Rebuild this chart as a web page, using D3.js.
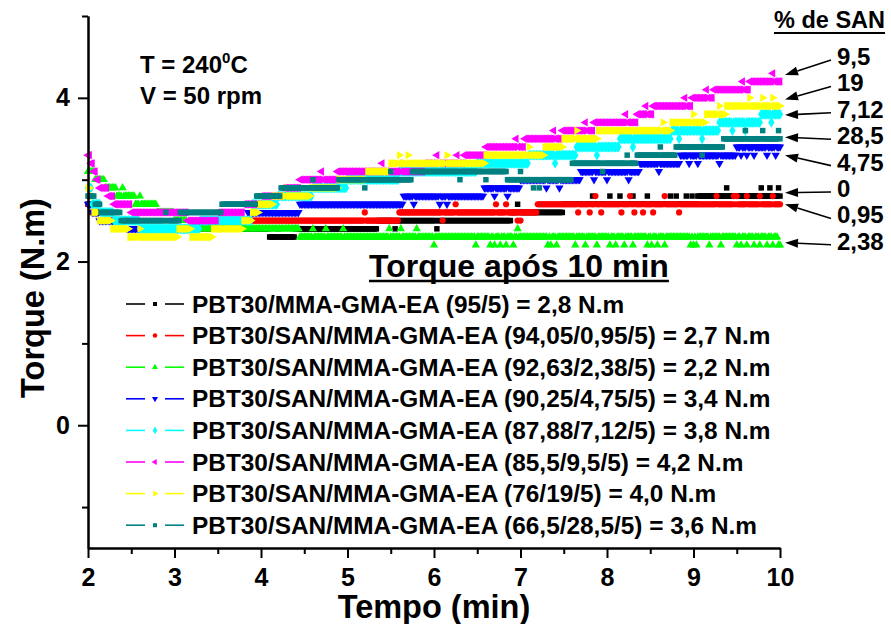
<!DOCTYPE html>
<html>
<head>
<meta charset="utf-8">
<script src="https://cdn.jsdelivr.net/npm/d3@7"></script>
<style>
  html, body { margin: 0; padding: 0; background: #fff; }
  svg text { font-family: "Liberation Sans", Arial, Helvetica, sans-serif; font-weight: bold; fill: #000; }
</style>
</head>
<body>
<svg id="chart" width="891" height="624"></svg>
<script>
// Mixing torque of PBT30 blends, one reading every second between 2 and 10 min.
const timeStart = 2, timeEnd = 10, sampleStep = 1 / 60;

const sanContent = ["0", "0,95", "2,38", "4,75", "7,12", "9,5", "19", "28,5"];
const legendLabels = [
  "PBT30/MMA-GMA-EA (95/5) = 2,8 N.m",
  "PBT30/SAN/MMA-GMA-EA (94,05/0,95/5) = 2,7 N.m",
  "PBT30/SAN/MMA-GMA-EA (92,63/2,38/5) = 2,2 N.m",
  "PBT30/SAN/MMA-GMA-EA (90,25/4,75/5) = 3,4 N.m",
  "PBT30/SAN/MMA-GMA-EA (87,88/7,12/5) = 3,8 N.m",
  "PBT30/SAN/MMA-GMA-EA (85,5/9,5/5) = 4,2 N.m",
  "PBT30/SAN/MMA-GMA-EA (76/19/5) = 4,0 N.m",
  "PBT30/SAN/MMA-GMA-EA (66,5/28,5/5) = 3,6 N.m"
];
const seriesColors = ["#000000", "#ff0000", "#00ff00", "#0000ff", "#00ffff", "#ff00ff", "#ffff00", "#008080"];
const seriesSymbols = ["square", "circle", "triangleUp", "triangleDown", "diamond", "triangleLeft", "triangleRight", "square"];

// Readings stored as runs: [start time (min), torque (N.m)], held until the next run starts.
const runsSAN0 = [[2.00, 2.7], [2.05, 2.6], [2.18, 2.5], [2.5, 2.4], [4.1, 2.3], [4.4, 2.4], [5.35, 2.5], [6.9, 2.6], [7.5, 2.7], [9.05, 2.8]];
const runsSAN095 = [[2.00, 2.7], [2.05, 2.6], [2.2, 2.5], [2.6, 2.4], [3.7, 2.5], [5.6, 2.6], [7.2, 2.7]];
const runsSAN238 = [[2.00, 3.1], [2.08, 3.0], [2.2, 2.9], [2.33, 2.8], [2.55, 2.7], [2.8, 2.6], [3.0, 2.5], [3.15, 2.4], [4.45, 2.3], [9.97, 2.2]];
const runsSAN475 = [[2.00, 2.7], [2.04, 2.6], [2.12, 2.5], [2.45, 2.4], [3.2, 2.5], [3.85, 2.6], [4.45, 2.7], [5.64, 2.8], [6.57, 2.9], [7.0, 3.0], [7.69, 3.1], [8.38, 3.2], [8.84, 3.3], [9.5, 3.4]];
const runsSAN712 = [[2.00, 2.9], [2.05, 2.7], [2.15, 2.6], [2.3, 2.5], [2.6, 2.4], [3.3, 2.5], [3.9, 2.7], [4.2, 2.8], [4.6, 2.9], [5.0, 3.0], [5.6, 3.1], [6.5, 3.2], [7.1, 3.3], [7.65, 3.4], [8.15, 3.5], [8.75, 3.6], [9.3, 3.7], [9.78, 3.8]];
const runsSAN95 = [[2.00, 3.3], [2.03, 3.2], [2.06, 3.1], [2.09, 3.0], [2.12, 2.9], [2.22, 2.8], [2.3, 2.7], [2.5, 2.6], [3.15, 2.5], [3.5, 2.6], [3.8, 2.7], [4.0, 2.8], [4.25, 2.9], [4.45, 3.0], [4.87, 3.1], [5.87, 3.2], [6.35, 3.3], [6.6, 3.4], [7.05, 3.5], [7.48, 3.6], [7.84, 3.7], [8.35, 3.8], [8.52, 3.9], [8.97, 4.0], [9.22, 4.1], [9.64, 4.2]];
const runsSAN19 = [[2.00, 2.9], [2.03, 2.8], [2.06, 2.6], [2.12, 2.5], [2.28, 2.4], [2.47, 2.3], [3.05, 2.4], [3.2, 2.3], [3.45, 2.4], [3.8, 2.5], [3.9, 2.6], [3.97, 2.7], [4.14, 2.8], [4.58, 2.9], [4.9, 3.0], [5.22, 3.1], [5.5, 3.2], [6.6, 3.3], [7.28, 3.4], [7.5, 3.5], [7.9, 3.6], [8.75, 3.7], [9.15, 3.8], [9.38, 3.9]];
const runsSAN285 = [[2.00, 2.8], [2.08, 2.7], [2.15, 2.6], [2.37, 2.5], [3.06, 2.6], [3.55, 2.7], [3.95, 2.8], [4.22, 2.9], [4.9, 3.0], [5.75, 3.1], [6.85, 3.0], [7.6, 3.2], [8.35, 3.3], [8.8, 3.4], [9.35, 3.5]];

// Single readings off the running level: [time (min), torque (N.m)].
const blipsSAN0 = [[4.2, 2.4], [5.55, 2.4], [6.03, 2.4], [6.97, 2.7], [7.84, 2.8], [8.03, 2.8], [8.15, 2.8], [8.3, 2.8], [8.46, 2.8], [8.73, 2.8], [8.8, 2.8], [8.92, 2.8], [8.98, 2.8], [9.25, 2.7], [9.39, 2.9], [9.6, 2.7], [9.79, 2.9], [9.88, 2.9], [9.98, 2.9]];
const blipsSAN095 = [[5.2, 2.6], [6.1, 2.5], [6.25, 2.7], [6.71, 2.7], [6.83, 2.7], [6.97, 2.5], [7.0, 2.5], [7.66, 2.6], [7.8, 2.6], [7.86, 2.8], [7.93, 2.6], [8.17, 2.6], [8.27, 2.8], [8.31, 2.6], [8.42, 2.6], [8.53, 2.6], [8.67, 2.8], [8.84, 2.6], [9.27, 2.8], [9.46, 2.8], [9.5, 2.8], [9.62, 2.8], [9.77, 2.8], [9.92, 2.8]];
const blipsSAN238 = [[2.4, 2.9], [2.6, 2.8], [4.6, 2.4], [4.75, 2.4], [4.95, 2.4], [5.49, 2.4], [5.61, 2.4], [5.8, 2.4], [6.0, 2.2], [6.48, 2.2], [6.65, 2.2], [6.7, 2.2], [6.76, 2.2], [6.84, 2.2], [6.91, 2.2], [6.97, 2.4], [7.31, 2.2], [7.35, 2.2], [7.42, 2.2], [7.63, 2.2], [7.75, 2.2], [7.88, 2.2], [8.03, 2.2], [8.1, 2.2], [8.2, 2.2], [8.3, 2.2], [8.46, 2.2], [8.52, 2.2], [8.58, 2.2], [8.67, 2.2], [8.96, 2.2], [9.0, 2.2], [9.04, 2.2], [9.19, 2.2], [9.31, 2.2], [9.5, 2.2], [9.55, 2.2], [9.62, 2.2], [9.7, 2.2], [9.77, 2.2], [9.85, 2.2], [9.92, 2.2]];
const blipsSAN475 = [[4.3, 2.6], [4.38, 2.6], [5.76, 2.7], [6.07, 2.7], [6.15, 2.7], [6.7, 2.8], [6.85, 2.8], [7.3, 2.9], [7.45, 2.9], [7.85, 3.0], [8.0, 3.0], [8.25, 3.0], [8.6, 3.1], [8.95, 3.2], [9.05, 3.2], [9.3, 3.2], [9.55, 3.3], [9.62, 3.3], [9.7, 3.3], [9.85, 3.3], [9.95, 3.3]];
const blipsSAN712 = [[7.4, 3.2], [7.88, 3.3], [8.3, 3.4], [8.84, 3.5], [9.1, 3.5], [9.45, 3.6], [9.6, 3.6], [9.9, 3.7]];
const blipsSAN95 = [[4.7, 3.1], [5.4, 3.2], [5.6, 3.2], [6.03, 3.3], [6.27, 3.3], [6.95, 3.5], [7.38, 3.6], [7.75, 3.7], [8.21, 3.8], [8.45, 3.9], [8.9, 4.0], [9.15, 4.1], [9.56, 4.2], [9.91, 4.3]];
const blipsSAN19 = [[2.6, 2.4], [4.3, 2.9], [5.6, 3.3], [5.7, 3.3], [6.15, 3.3], [7.1, 3.4], [7.65, 3.6], [8.65, 3.7], [9.0, 3.8], [9.3, 3.9], [9.65, 4.0], [9.8, 4.0], [9.92, 4.0]];
const blipsSAN285 = [[2.9, 2.6], [4.6, 3.0], [5.2, 2.9], [5.5, 3.1], [6.3, 3.0], [6.6, 3.0], [7.0, 3.1], [7.15, 2.9], [7.21, 2.9], [7.95, 3.1], [8.24, 3.3], [8.61, 3.4], [9.1, 3.3], [9.6, 3.6], [9.8, 3.6], [9.98, 3.6]];

const seriesRuns = [runsSAN0, runsSAN095, runsSAN238, runsSAN475, runsSAN712, runsSAN95, runsSAN19, runsSAN285];
const seriesBlips = [blipsSAN0, blipsSAN095, blipsSAN238, blipsSAN475, blipsSAN712, blipsSAN95, blipsSAN19, blipsSAN285];

// Torque level each arrow on the right points at, top to bottom.
const arrowLabels = ["9,5", "19", "7,12", "28,5", "4,75", "0", "0,95", "2,38"];
const arrowTargets = [4.28, 3.98, 3.79, 3.52, 3.30, 2.84, 2.70, 2.23];

const xMajorTicks = [2, 3, 4, 5, 6, 7, 8, 9, 10];
const xMinorTicks = [2.5, 3.5, 4.5, 5.5, 6.5, 7.5, 8.5, 9.5];
const yMajorTicks = [0, 2, 4];
const yMinorTicks = [-1, 1, 3, 5];

// ---- decode the stored runs into the per-second reading sequence ----
const nSamples = Math.round((timeEnd - timeStart) / sampleStep);
function decode(runs, blips) {
  const pts = [];
  for (let i = 0; i <= nSamples; i++) {
    const t = timeStart + i * sampleStep;
    let v = runs[0][1];
    for (const r of runs) { if (r[0] <= t + 1e-9) v = r[1]; }
    pts.push({ t, v });
  }
  for (const b of blips) {
    const i = Math.round((b[0] - timeStart) / sampleStep);
    if (i >= 0 && i <= nSamples) pts[i].v = b[1];
  }
  return pts;
}
const seriesData = seriesRuns.map((r, k) => decode(r, seriesBlips[k]));

// ---- layout ----
const svg = d3.select("#chart");
const x = d3.scaleLinear().domain([2, 10]).range([88, 780]);
const y = d3.scaleLinear().domain([-1.5, 5]).range([548, 16]);

function symbolPath(kind, size) {
  const base = {
    square: d3.symbolSquare, circle: d3.symbolCircle, diamond: d3.symbolDiamond,
    triangleUp: d3.symbolTriangle, triangleDown: d3.symbolTriangle,
    triangleLeft: d3.symbolTriangle, triangleRight: d3.symbolTriangle
  }[kind];
  return d3.symbol().type(base).size(size)();
}
const symbolRotation = { triangleDown: 180, triangleLeft: -90, triangleRight: 90 };
const plotSize = { square: 30, circle: 30, diamond: 34, triangleUp: 30, triangleDown: 30, triangleLeft: 30, triangleRight: 30 };
const legendSize = { square: 16, circle: 16, diamond: 18, triangleUp: 16, triangleDown: 16, triangleLeft: 16, triangleRight: 16 };

// ---- markers ----
const plot = svg.append("g");
seriesData.forEach((pts, k) => {
  const kind = seriesSymbols[k];
  const path = symbolPath(kind, plotSize[kind]);
  const rot = symbolRotation[kind] || 0;
  plot.append("g").selectAll("path").data(pts).join("path")
    .attr("d", path)
    .attr("transform", d => `translate(${x(d.t)},${y(d.v)}) rotate(${rot})`)
    .attr("fill", seriesColors[k]);
});

// ---- axes ----
function styleAxis(g) {
  g.attr("font-family", null);
  g.selectAll("path.domain").attr("stroke", "#000").attr("stroke-width", 2);
  g.selectAll(".tick line").attr("stroke", "#000").attr("stroke-width", 2);
  g.selectAll(".tick text").attr("font-size", 25);
}
svg.append("g").attr("transform", "translate(0,548)")
  .call(d3.axisBottom(x).tickValues(xMinorTicks).tickSize(6).tickSizeOuter(0).tickFormat(""))
  .call(styleAxis);
svg.append("g").attr("transform", "translate(0,548)")
  .call(d3.axisBottom(x).tickValues(xMajorTicks).tickSize(10).tickSizeOuter(0).tickPadding(10).tickFormat(d3.format("d")))
  .call(styleAxis);
svg.append("g").attr("transform", "translate(88,0)")
  .call(d3.axisLeft(y).tickValues(yMinorTicks).tickSize(6).tickSizeOuter(0).tickFormat(""))
  .call(styleAxis);
svg.append("g").attr("transform", "translate(88,0)")
  .call(d3.axisLeft(y).tickValues(yMajorTicks).tickSize(10).tickSizeOuter(0).tickPadding(8).tickFormat(d3.format("d")))
  .call(styleAxis);

// axis titles
svg.append("text").attr("x", 434).attr("y", 618).attr("text-anchor", "middle")
  .attr("font-size", 32.5).text("Tempo (min)");
svg.append("text").attr("transform", "translate(44,298) rotate(-90)").attr("text-anchor", "middle")
  .attr("font-size", 32.5).text("Torque (N.m)");

// process conditions
const cond = svg.append("text").attr("x", 140).attr("y", 73).attr("font-size", 24);
cond.append("tspan").text("T = 240");
cond.append("tspan").attr("font-size", 15).attr("dy", -10).text("0");
cond.append("tspan").attr("dy", 10).text("C");
svg.append("text").attr("x", 140).attr("y", 104).attr("font-size", 24).text("V = 50 rpm");

// ---- legend ----
const legTitle = svg.append("text").attr("x", 369).attr("y", 277).attr("font-size", 32).text("Torque após 10 min");
const tb = legTitle.node().getBBox();
svg.append("line").attr("x1", tb.x).attr("x2", tb.x + tb.width).attr("y1", 281).attr("y2", 281)
  .attr("stroke", "#000").attr("stroke-width", 2.5);

const legend = svg.append("g");
legendLabels.forEach((label, k) => {
  const cy = 304 + 31.6 * k;
  const kind = seriesSymbols[k];
  const row = legend.append("g");
  row.append("line").attr("x1", 126).attr("x2", 145).attr("y1", cy).attr("y2", cy)
    .attr("stroke", seriesColors[k]).attr("stroke-width", 1.6);
  row.append("line").attr("x1", 165).attr("x2", 184).attr("y1", cy).attr("y2", cy)
    .attr("stroke", seriesColors[k]).attr("stroke-width", 1.6);
  row.append("path").attr("d", symbolPath(kind, legendSize[kind]))
    .attr("transform", `translate(155,${cy}) rotate(${symbolRotation[kind] || 0})`)
    .attr("fill", seriesColors[k]);
  row.append("text").attr("x", 192).attr("y", cy + 8.5).attr("font-size", 24.4).text(label);
});

// ---- % de SAN annotations ----
const sanTitle = svg.append("text").attr("x", 774).attr("y", 28).attr("font-size", 23.5).text("% de SAN");
const sb = sanTitle.node().getBBox();
svg.append("line").attr("x1", sb.x).attr("x2", sb.x + sb.width).attr("y1", 33).attr("y2", 33)
  .attr("stroke", "#000").attr("stroke-width", 2);

arrowLabels.forEach((lab, i) => {
  const base = 65 + 26.4 * i;
  svg.append("text").attr("x", 837).attr("y", base).attr("font-size", 24).text(lab);
  const x0 = 831, y0 = base - 5;
  const x1 = 785, y1 = y(arrowTargets[i]);
  const ang = Math.atan2(y1 - y0, x1 - x0);
  const head = 13, half = 4.5;
  const bx = x1 - head * Math.cos(ang), by = y1 - head * Math.sin(ang);
  svg.append("line").attr("x1", x0).attr("y1", y0).attr("x2", bx).attr("y2", by)
    .attr("stroke", "#000").attr("stroke-width", 1.6);
  const px = -Math.sin(ang) * half, py = Math.cos(ang) * half;
  svg.append("path")
    .attr("d", `M${x1},${y1}L${bx + px},${by + py}L${bx - px},${by - py}Z`)
    .attr("fill", "#000");
});
</script>
</body>
</html>
